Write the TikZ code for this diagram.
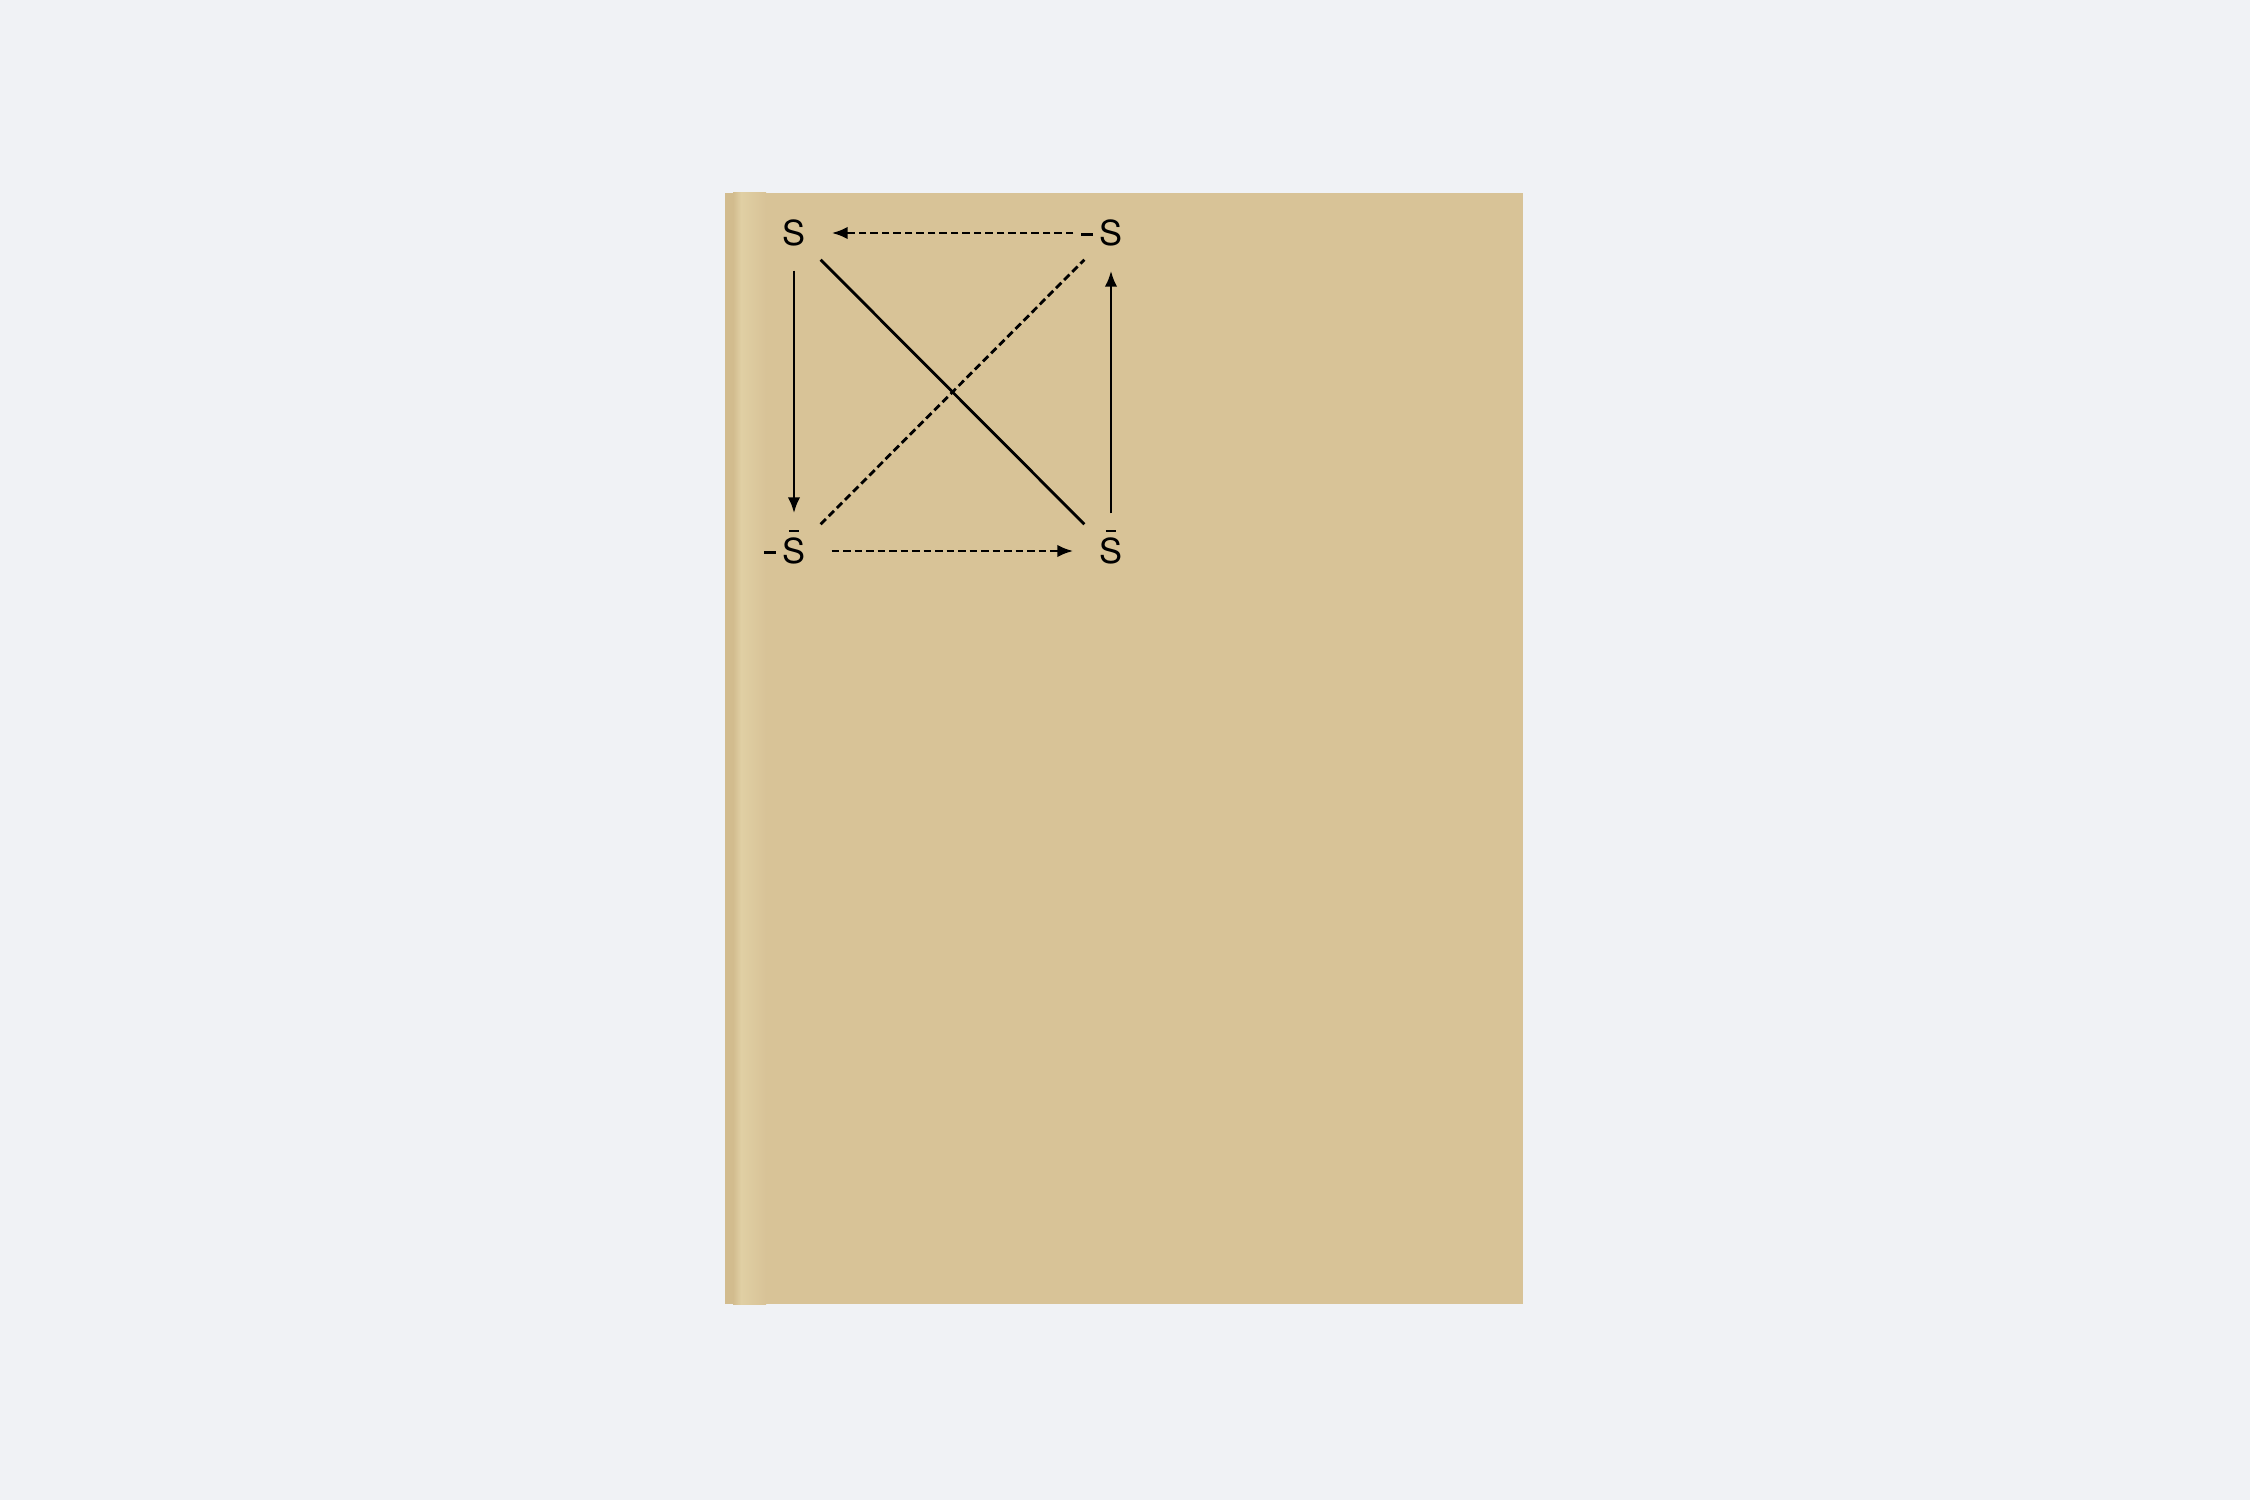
\documentclass[tikz,border=0pt]{standalone}
\usepackage{fontspec}
\setmainfont{TeX Gyre Heros}
\usepackage{tikz}
\usetikzlibrary{arrows.meta}
\definecolor{pagebg}{HTML}{F0F2F5}
\definecolor{cover}{HTML}{D8C397}
\definecolor{spinedark}{HTML}{D2BC8E}
\definecolor{spinelight}{HTML}{E0CFA4}
\newcommand{\barS}{\ooalign{S\cr\hidewidth\raisebox{3.2mm}{\rule{1.05mm}{0.22mm}}\hidewidth\cr}}
\newcommand{\negmark}{\llap{\rule[1.0mm]{1.2mm}{0.24mm}\kern0.65mm}}
\tikzstyle{term}=[circle, minimum size=7.4mm, inner sep=0pt, text height=2.55mm, text depth=0pt,
font=\fontsize{9.8}{12}\selectfont, text=black]
\tikzstyle{link}=[line width=0.8pt, draw=black]
\tikzstyle{implies}=[link, -{Latex[length=1.6mm,width=1.25mm]}]
\tikzstyle{dashlink}=[dash pattern=on 0.75mm off 0.4mm]

\begin{document}
\begin{tikzpicture}[x=0.1mm,y=-0.1mm]
\useasboundingbox (0,0) rectangle (2250,1500);
\fill[pagebg] (0,0) rectangle (2250,1500);
% book cover and spine
\fill[cover] (725,193) rectangle (1523,1304);
\fill[spinedark] (725,193) rectangle (733,1304);
\shade[left color=spinedark, right color=spinelight] (733,193) rectangle (741,1304);
\shade[left color=spinelight, right color=cover] (741,193) rectangle (766,1304);

\node[term] (s) at (794,233) {S};
\node[term] (nots) at (1111,233) {\negmark S};
\node[term] (nsbar) at (794,551) {\negmark\barS};
\node[term] (sbar) at (1111,551) {\barS};

\draw[implies] (s) -- (nsbar);
\draw[implies, dashlink] (nsbar) -- (sbar);
\draw[implies] (sbar) -- (nots);
\draw[implies, dashlink] (nots) -- (s);
\draw[link] (s) -- (sbar);
\draw[link, dashlink] (nsbar) -- (nots);

\end{tikzpicture}
\end{document}
